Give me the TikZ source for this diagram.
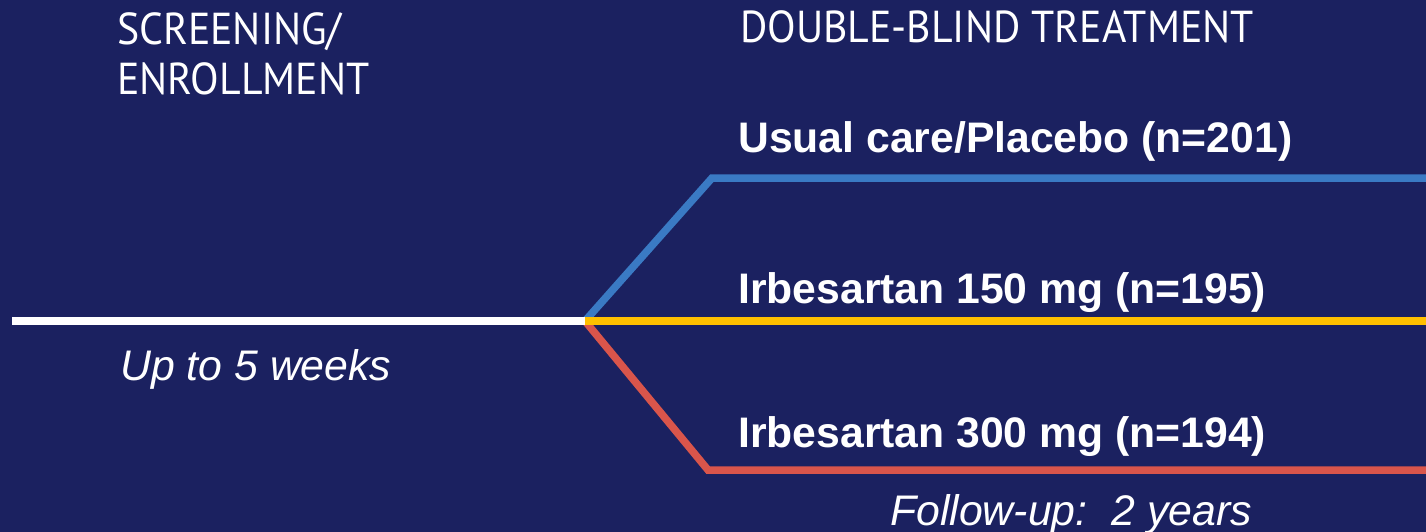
\documentclass[tikz,border=0pt]{standalone}
\usepackage{fontspec}
\setmainfont{Liberation Sans}
\newfontfamily\headfont{PT Sans}
\definecolor{navy}{HTML}{1B2160}
\definecolor{armblue}{HTML}{3A7AC4}
\definecolor{armgold}{HTML}{FFC000}
\definecolor{armred}{HTML}{D9554B}
\begin{document}
\begin{tikzpicture}[x=1pt,y=-1pt,
  phase/.style={anchor=base west,inner sep=0pt,text=white,yscale=1.07,font=\headfont\fontsize{41.8}{50}\selectfont},
  arm/.style={anchor=base west,inner sep=0pt,text=white,font=\bfseries\fontsize{42.7}{50}\selectfont},
  note/.style={anchor=base west,inner sep=0pt,text=white,font=\itshape\fontsize{42.8}{50}\selectfont},
  track/.style={line width=7.5pt,line join=miter}]
\fill[navy] (0,0) rectangle (1426,532);
\useasboundingbox (0,0) rectangle (1426,532);
% branching points
\coordinate (start) at (12,321);
\coordinate (split) at (585,321);
\coordinate (topk) at (712,178);
\coordinate (topend) at (1426,178);
\coordinate (midend) at (1426,321);
\coordinate (lowk) at (708,470);
\coordinate (lowend) at (1426,470);
% arms
\draw[track,armblue] (split) -- (topk) -- (topend);
\draw[track,armred] (split) -- (lowk) -- (lowend);
\draw[track,white] (start) -- (split);
\draw[track,armgold] (split) -- (midend);
% labels
\node[phase] (screen) at (117,45) {SCREENING/};
\node[phase] (enrol) at (117,95) {ENROLLMENT};
\node[phase] (dbt) at (740,43) {DOUBLE-BLIND TREATMENT};
\node[arm] (plac) at (738,152) {Usual care/Placebo (n=201)};
\node[arm] (i150) at (738,303) {Irbesartan 150 mg (n=195)};
\node[arm] (i300) at (738,447) {Irbesartan 300 mg (n=194)};
\node[note] (weeks) at (120,380) {Up to 5 weeks};
\node[note] (fu) at (890,525) {Follow-up:\ \ 2 years};
\end{tikzpicture}
\end{document}
